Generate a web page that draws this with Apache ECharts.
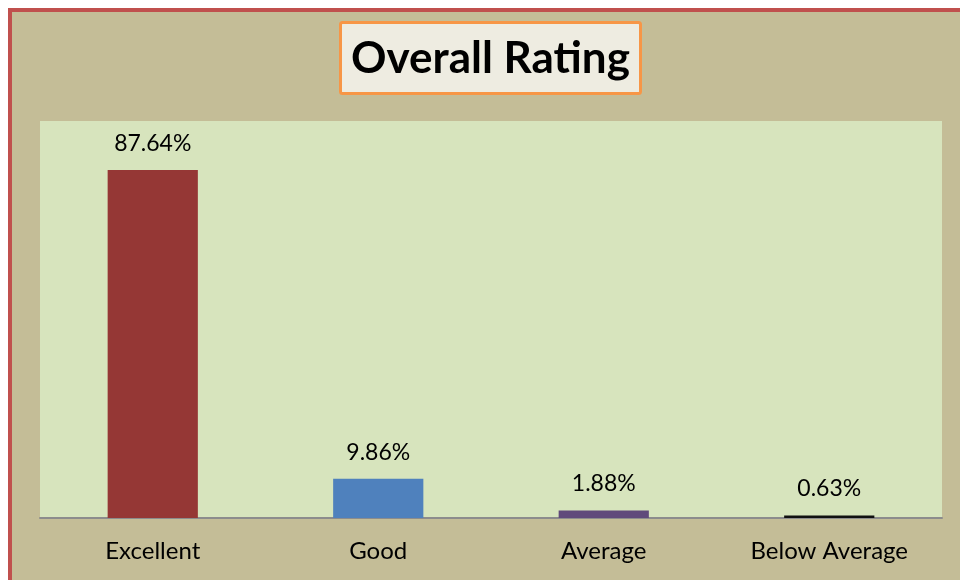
<!DOCTYPE html>
<html>
<head>
    <meta charset="utf-8">
    <title>Overall Rating</title>
    <script src="https://cdn.jsdelivr.net/npm/echarts@6/dist/echarts.min.js"></script>
    <style>
        body { margin: 0; background: #fff; }
    </style>
</head>
<body>
<div id="main" style="width: 960px;height:580px;"></div>
<script type="text/javascript">
    // data
    var categories = ['Excellent', 'Good', 'Average', 'Below Average'];
    var ratings = [87.64, 9.86, 1.88, 0.63];
    var barColors = ['#953735', '#4F81BD', '#604A7B', '#111111'];

    var myChart = echarts.init(document.getElementById('main'));

    var option = {
        backgroundColor: '#ffffff',
        textStyle: { fontFamily: 'Lato, "Open Sans", sans-serif' },
        graphic: [{
            // outer frame
            type: 'rect',
            z: -10,
            shape: { x: 10, y: 10, width: 1000, height: 1000 },
            style: { fill: '#C4BD97', stroke: '#C0504D', lineWidth: 4 }
        }],
        title: {
            text: 'Overall Rating',
            left: 340,
            top: 22,
            padding: [15, 11, 13, 11],
            backgroundColor: '#EEECE1',
            borderColor: '#F79646',
            borderWidth: 3,
            borderRadius: 2,
            textStyle: {
                fontSize: 44,
                fontWeight: 'bold',
                color: '#000',
                fontFamily: 'Lato, "Open Sans", sans-serif'
            }
        },
        grid: {
            left: 40,
            right: 18,
            top: 121,
            bottom: 62,
            show: true,
            backgroundColor: '#D7E4BD',
            borderWidth: 0
        },
        xAxis: {
            type: 'category',
            data: categories,
            axisLine: { lineStyle: { color: '#8C8C8C', width: 2 } },
            axisTick: { show: false },
            axisLabel: { fontSize: 24, color: '#000', margin: 21 }
        },
        yAxis: {
            type: 'value',
            min: 0,
            max: 100,
            show: false,
            splitLine: { show: false }
        },
        series: [{
            type: 'bar',
            barWidth: '40%',
            data: ratings.map(function (v, i) {
                return { value: v, itemStyle: { color: barColors[i] } };
            }),
            label: {
                show: true,
                position: 'top',
                distance: 15,
                fontSize: 23,
                color: '#000',
                formatter: function (p) { return p.value.toFixed(2) + '%'; }
            }
        }]
    };

    myChart.setOption(option);
</script>
</body>
</html>
